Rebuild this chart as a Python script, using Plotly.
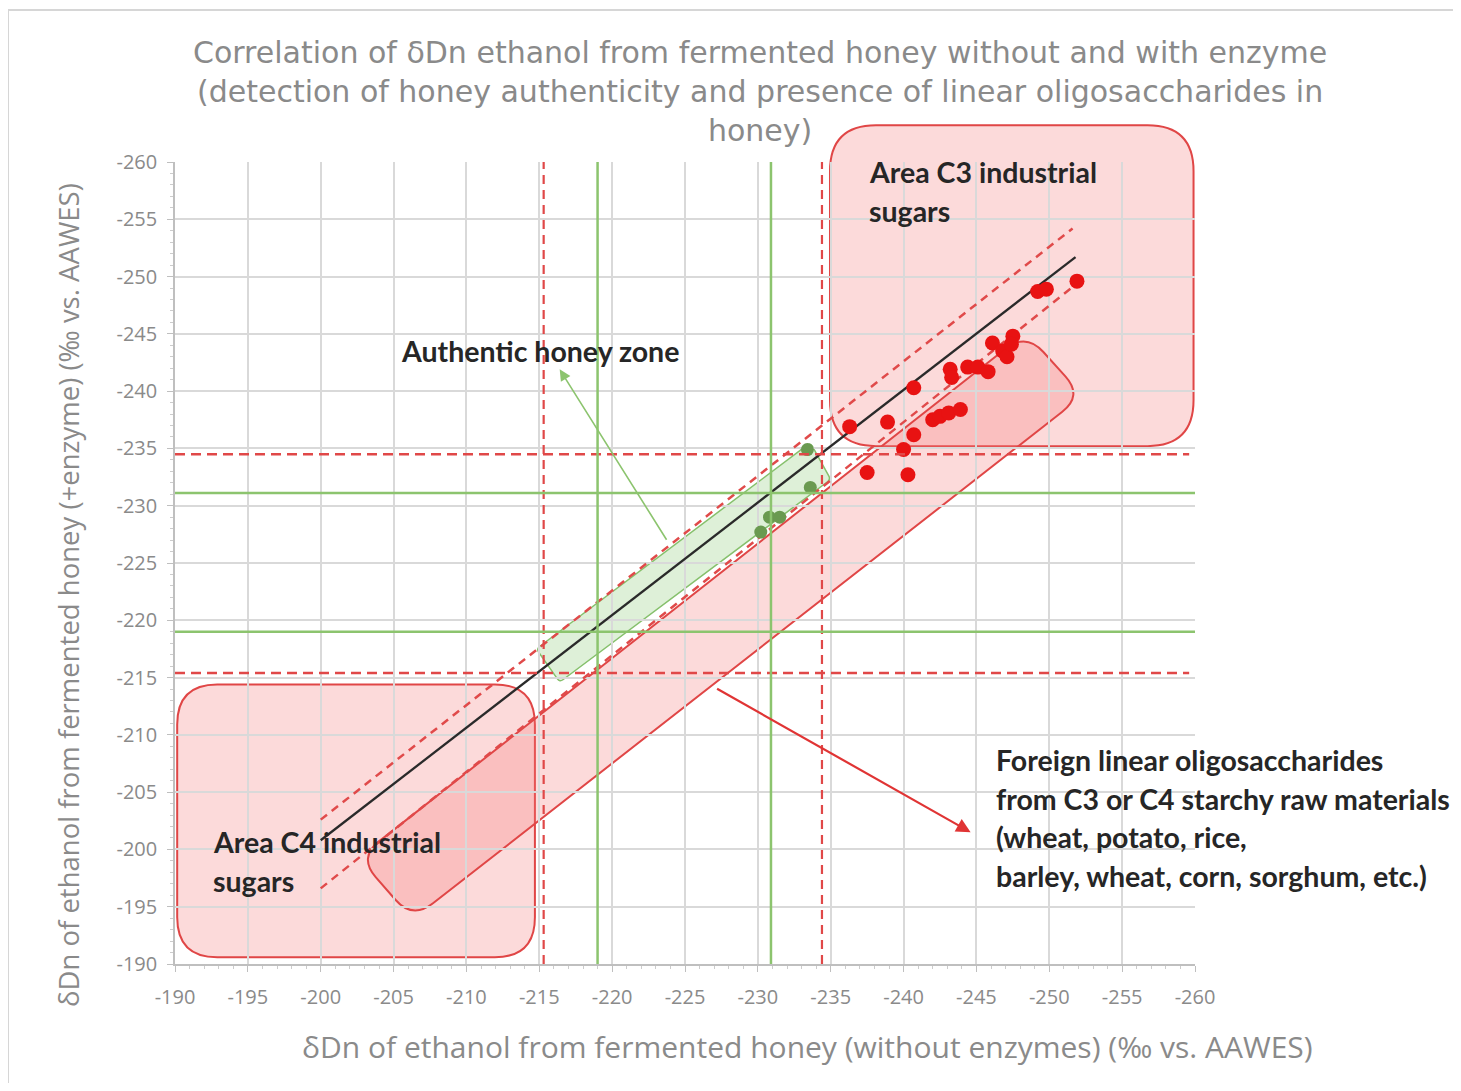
import math
import plotly.graph_objects as go

# ---------------- data ----------------
tick_vals = [-190, -195, -200, -205, -210, -215, -220, -225, -230, -235, -240, -245, -250, -255, -260]
tick_labels = ["-190", "-195", "-200", "-205", "-210", "-215", "-220", "-225", "-230", "-235",
               "-240", "-245", "-250", "-255", "-260"]

# adulterated samples (red)
red_x = [-236.3, -238.9, -240.7, -240.7, -240.0, -237.5, -240.3, -242.0, -242.5, -243.1, -243.9,
         -243.2, -243.3, -244.4, -245.1, -245.8, -246.1, -246.8, -247.1, -247.5, -247.4,
         -249.2, -249.8, -251.9]
red_y = [-236.9, -237.3, -240.3, -236.2, -234.9, -232.9, -232.7, -237.5, -237.8, -238.1, -238.4,
         -241.9, -241.2, -242.1, -242.1, -241.7, -244.2, -243.5, -243.0, -244.8, -244.1,
         -248.7, -248.9, -249.6]

# authentic samples (green)
green_x = [-233.4, -233.6, -230.8, -231.5, -230.2]
green_y = [-234.9, -231.6, -229.0, -229.0, -227.7]

# limit lines
red_limits_x = [-215.3, -234.4]
red_limits_y = [-215.4, -234.5]
green_limits_x = [-219.0, -230.9]
green_limits_y = [-219.0, -231.1]

# diagonal reference lines
line1_x = [-200.0, -251.8]
line1_y = [-200.8, -251.7]
upper_x = [-200.0, -251.6]
upper_y = [-202.6, -254.2]
lower_x = [-200.0, -251.8]
lower_y = [-196.6, -249.3]

# zones (corner points, data units)
c4_box_x = [-190.15, -214.7, -214.7, -190.15]
c4_box_y = [-214.4, -214.4, -190.6, -190.6]
c3_box_x = [-234.95, -259.9, -259.9, -234.95]
c3_box_y = [-263.2, -263.2, -235.2, -235.2]
band_x = [-202.6, -248.4, -252.3, -206.3]
band_y = [-199.3, -245.1, -239.6, -193.9]
auth_x = [-214.8, -233.6, -235.0, -216.4]
auth_y = [-217.5, -235.5, -232.3, -214.6]

title_lines = ["Correlation of \u03b4Dn ethanol from fermented honey without and with enzyme",
               "(detection of honey authenticity and presence of linear oligosaccharides in",
               "honey)"]
foreign_lines = ["Foreign linear oligosaccharides",
                 "from C3 or C4 starchy raw materials",
                 "(wheat, potato, rice,",
                 "barley, wheat, corn, sorghum, etc.)"]
c3_lines = ["Area C3 industrial", "sugars"]
c4_lines = ["Area C4 industrial", "sugars"]
auth_label = "Authentic honey zone"
x_title = "\u03b4Dn of ethanol from fermented honey (without enzymes) (\u2030 vs. AAWES)"
y_title = "\u03b4Dn of ethanol from fermented honey (+enzyme) (\u2030 vs. AAWES)"

# ---------------- layout geometry ----------------
OFF = 8  # page body margin
W, H = 1445, 1075
ML, MT = 167, 154
PW, PH = 1020, 802
MR = W - ML - PW
MB = H - MT - PH
X_RANGE = [-190, -260]
Y_RANGE = [-190, -260]


def px2paper(px, py):
    fx, fy = px - OFF, py - OFF
    return (fx - ML) / PW, (H - MB - fy) / PH


def to_px(x, y):
    return ((x - X_RANGE[0]) / (X_RANGE[1] - X_RANGE[0]) * PW,
            (y - Y_RANGE[0]) / (Y_RANGE[1] - Y_RANGE[0]) * PH)


def from_px(px, py):
    return (X_RANGE[0] + px / PW * (X_RANGE[1] - X_RANGE[0]),
            Y_RANGE[0] + py / PH * (Y_RANGE[1] - Y_RANGE[0]))


def ydom(y):
    return (y - Y_RANGE[0]) / (Y_RANGE[1] - Y_RANGE[0])


def rounded_path(xs, ys, r, ydomain=False):
    pts = [to_px(x, y) for x, y in zip(xs, ys)]
    n = len(pts)
    segs = []
    for i in range(n):
        p = pts[i]
        pp = pts[i - 1]
        pn = pts[(i + 1) % n]
        d1 = math.hypot(pp[0] - p[0], pp[1] - p[1])
        d2 = math.hypot(pn[0] - p[0], pn[1] - p[1])
        rr = min(r, d1 / 2, d2 / 2)
        a = (p[0] + (pp[0] - p[0]) * rr / d1, p[1] + (pp[1] - p[1]) * rr / d1)
        b = (p[0] + (pn[0] - p[0]) * rr / d2, p[1] + (pn[1] - p[1]) * rr / d2)
        segs.append((a, p, b))

    def fmt(q):
        x, y = from_px(*q)
        if ydomain:
            y = ydom(y)
        return "%.4f,%.4f" % (x, y)

    path = "M " + fmt(segs[0][2])
    for i in list(range(1, n)) + [0]:
        a, p, b = segs[i]
        path += " L " + fmt(a) + " Q " + fmt(p) + " " + fmt(b)
    return path + " Z"


fig = go.Figure()

# ---------------- shapes ----------------
shapes = []
pink_fill = "rgba(245,120,120,0.27)"
red_edge = "#e04646"

shapes.append(dict(type="path", xref="x", yref="y", layer="below",
                   path=rounded_path(c4_box_x, c4_box_y, 40),
                   fillcolor=pink_fill, line=dict(color=red_edge, width=2)))
shapes.append(dict(type="path", xref="x", yref="y domain", layer="below",
                   path=rounded_path(c3_box_x, c3_box_y, 46, ydomain=True),
                   fillcolor=pink_fill, line=dict(color=red_edge, width=2)))
shapes.append(dict(type="path", xref="x", yref="y", layer="below",
                   path=rounded_path(band_x, band_y, 26),
                   fillcolor=pink_fill, line=dict(color=red_edge, width=2)))
shapes.append(dict(type="path", xref="x", yref="y", layer="below",
                   path=rounded_path(auth_x, auth_y, 4),
                   fillcolor="rgba(205,232,195,0.65)", line=dict(color="#86c06c", width=1.5)))

for v in red_limits_x:
    shapes.append(dict(type="line", xref="x", yref="y", x0=v, x1=v, y0=-190, y1=-260,
                       line=dict(color="#e04848", width=2.2, dash="9px,6px")))
for v in red_limits_y:
    shapes.append(dict(type="line", xref="x", yref="y", x0=-190, x1=-259.6, y0=v, y1=v,
                       line=dict(color="#e04848", width=2.5, dash="10px,6px")))
for v in green_limits_x:
    shapes.append(dict(type="line", xref="x", yref="y", x0=v, x1=v, y0=-190, y1=-260,
                       line=dict(color="#8cc46e", width=2.5)))
for v in green_limits_y:
    shapes.append(dict(type="line", xref="x", yref="y", x0=-190, x1=-260, y0=v, y1=v,
                       line=dict(color="#8cc46e", width=2.5)))

# outer frame
fx0, fy0 = px2paper(8, 1110)
fx1, fy1 = px2paper(1490, 10)
shapes.append(dict(type="rect", xref="paper", yref="paper", x0=fx0, x1=fx1, y0=fy0, y1=fy1,
                   line=dict(color="#d6d6d6", width=2), fillcolor="rgba(0,0,0,0)", layer="below"))

# ---------------- traces ----------------
fig.add_trace(go.Scatter(x=upper_x, y=upper_y, mode="lines",
                         line=dict(color="#e04a4a", width=2.5, dash="8px,6px"), showlegend=False))
fig.add_trace(go.Scatter(x=lower_x, y=lower_y, mode="lines",
                         line=dict(color="#e04a4a", width=2.5, dash="8px,6px"), showlegend=False))
fig.add_trace(go.Scatter(x=line1_x, y=line1_y, mode="lines",
                         line=dict(color="#2a2a2a", width=2.3), showlegend=False))
fig.add_trace(go.Scatter(x=green_x, y=green_y, mode="markers",
                         marker=dict(color="#6a9a50", size=13), showlegend=False))
fig.add_trace(go.Scatter(x=red_x, y=red_y, mode="markers",
                         marker=dict(color="#e81212", size=15), showlegend=False))

# ---------------- annotations ----------------
ann = []
bold_font = dict(family="Lato", size=28.5, color="#262626")


def text_at(txt, px, py, font, xanchor="left"):
    x, y = px2paper(px, py)
    ann.append(dict(text=txt, x=x, y=y, xref="paper", yref="paper", showarrow=False,
                    xanchor=xanchor, yanchor="middle", font=font))


# title as one multi-line text block
text_at("<br>".join(title_lines), 760, 91,
        dict(family="DejaVu Sans", size=30, color="#8a8a8a"), "center")

for i, t in enumerate(c3_lines):
    text_at("<b>%s</b>" % t, 867, 172 + i * 39, bold_font)
for i, t in enumerate(c4_lines):
    text_at("<b>%s</b>" % t, 211, 842 + i * 39, bold_font)
text_at("<b>%s</b>" % auth_label, 399, 351, dict(family="Lato", size=28.5, color="#262626"))
for i, t in enumerate(foreign_lines):
    text_at("<b>%s</b>" % t, 994, 760 + i * 38.5, bold_font)

# axis titles
tx, ty = px2paper(807, 1046)
ann.append(dict(text=x_title, x=tx, y=ty, xref="paper", yref="paper", showarrow=False,
                xanchor="center", yanchor="middle",
                font=dict(family="Open Sans", size=30, color="#8a8a8a")))
tx, ty = px2paper(68, 595)
ann.append(dict(text=y_title, x=tx, y=ty, xref="paper", yref="paper", showarrow=False,
                xanchor="center", yanchor="middle", textangle=-90,
                font=dict(family="Open Sans", size=27.5, color="#8a8a8a")))

# arrows
ann.append(dict(x=-216.4, y=-241.9, ax=-223.8, ay=-226.9, xref="x", yref="y", axref="x", ayref="y",
                text="", showarrow=True, arrowhead=2, arrowsize=1.4, arrowwidth=1.6,
                arrowcolor="#8cc46e", standoff=0, startstandoff=0))
ann.append(dict(x=-244.6, y=-201.5, ax=-227.1, ay=-214.1, xref="x", yref="y", axref="x", ayref="y",
                text="", showarrow=True, arrowhead=2, arrowsize=1.3, arrowwidth=2.2,
                arrowcolor="#e03434", standoff=0, startstandoff=0))

axis_common = dict(
    tickmode="array", tickvals=tick_vals, ticktext=tick_labels,
    showgrid=True, gridcolor="#d9d9d9", gridwidth=1.5,
    showline=True, linecolor="#bfbfbf", linewidth=1.5,
    ticks="outside", ticklen=6, tickcolor="#bfbfbf",
    minor=dict(tickmode="linear", tick0=-190, dtick=1, ticks="outside", ticklen=3,
               tickcolor="#cccccc", showgrid=False),
    zeroline=False,
    tickfont=dict(family="Open Sans", size=20, color="#8a8a8a"),
)

fig.update_layout(
    width=W, height=H,
    margin=dict(l=ML, r=MR, t=MT, b=MB),
    paper_bgcolor="white", plot_bgcolor="white",
    xaxis=dict(range=X_RANGE, **axis_common),
    yaxis=dict(range=Y_RANGE, **axis_common),
    shapes=shapes, annotations=ann, showlegend=False,
)
fig.update_xaxes(ticklabelstandoff=8)
fig.update_yaxes(ticklabelstandoff=6)

fig.write_html("out.html")
